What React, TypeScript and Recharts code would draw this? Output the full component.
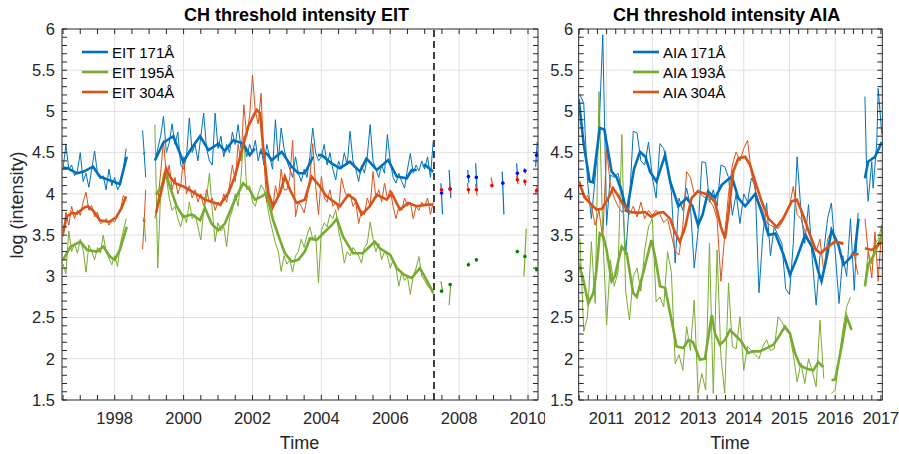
import React from 'react';
import { ComposedChart, Line, XAxis, YAxis, ReferenceLine, ReferenceArea } from 'recharts';

const BLUE = '#0072BD';
const GREEN = '#77AC30';
const ORANGE = '#D95319';
const AX = '#262626';
const GRID = '#e0e0e0';
const FONT = '"Liberation Sans", Arial, Helvetica, sans-serif';

type Pt = { t: number; v: number | null };
const monthly = (start: number, vals: (number | null)[]): Pt[] => vals.map((v, i) => ({ t: start + i / 12, v }));
const pairs = (list: [number, number | null][]): Pt[] => list.map(([t, v]) => ({ t, v }));
const gap = (t: number): Pt => ({ t, v: null });

// ---------- EIT panel (left) ----------
const eitStartA = 1996.5;
const eit171A = [4.30, 4.60, 4.30, 4.35, 4.22, 4.28, 4.50, 4.15, 4.25, 4.08, 4.30, 4.52, 4.25, 4.18, 4.22, 4.05, 4.30, 4.10, 4.20, 4.05, 4.12, 4.30, 4.55];
const eit304A = [3.48, 3.78, 3.62, 3.85, 3.70, 3.80, 3.74, 3.90, 4.02, 3.80, 3.86, 3.72, 3.78, 3.64, 3.66, 3.70, 3.62, 3.68, 3.66, 3.74, 3.80, 3.98, 3.92];
const eit195A = [3.15, 3.03, 3.55, 3.30, 3.40, 3.28, 3.45, 3.32, 3.05, 3.38, 3.30, 3.20, 3.35, 3.28, 3.50, 3.30, 3.22, 3.14, 3.25, 3.12, 3.40, 3.55, 3.70];

const eitGapT = [1998.81, 1998.855, 1998.9];
const eit171Gap = [4.77, 4.50, 4.20];
const eit304Gap = [3.33, 3.66, 4.05];
const eit195Gap = [3.72, 3.70, 3.42];

const eitStartB = 1999 + 2 / 12;
const eit171B = [
  4.40, 4.55, 4.70, 4.94, 4.50, 4.62, 4.85, 4.60, 4.75, 4.35,
  4.30, 4.45, 4.92, 4.50, 4.60, 4.40, 4.70, 4.98, 4.55, 4.40, 4.35, 4.98,
  4.55, 4.70, 4.45, 4.60, 4.50, 4.75, 4.60, 4.84, 4.55, 4.62, 4.45, 4.60,
  4.50, 4.65, 4.40, 4.55, 4.35, 4.60, 4.45, 4.30, 4.90, 4.40, 4.80, 4.55,
  4.40, 4.30, 4.20, 4.45, 4.25, 4.15, 4.30, 4.20, 4.45, 4.80, 4.50, 4.40,
  4.45, 4.60, 4.35, 4.50, 4.30, 4.17, 4.40, 4.30, 4.50, 4.35, 4.76, 4.40,
  4.30, 4.15, 4.35, 4.25, 4.45, 4.84, 4.40, 4.30, 4.20, 4.35, 4.25, 4.72,
  4.40, 4.20, 4.13, 4.25, 4.15, 4.07, 4.30, 4.49, 4.25, 4.35, 4.28, 4.40,
  4.30, 4.45, 4.20, 4.65,
];
const eit304B = [
  3.70, 3.90, 4.25, 4.65, 4.20, 4.35, 4.05, 4.20, 4.00, 4.10,
  4.45, 4.00, 4.10, 3.95, 4.05, 3.90, 4.00, 3.85, 4.05, 3.90, 3.95, 3.80,
  3.90, 3.85, 4.00, 3.90, 4.10, 4.35, 4.15, 4.60, 4.40, 5.08, 4.70, 4.95,
  5.44, 5.00, 4.85, 5.22, 4.40, 3.90, 3.93, 3.80, 4.10, 3.95, 4.30, 4.05,
  4.05, 4.20, 4.65, 3.72, 3.90, 3.85, 3.77, 3.95, 4.20, 4.61, 4.10, 3.75,
  4.21, 3.95, 3.90, 4.05, 3.85, 3.90, 3.80, 4.19, 4.05, 3.95, 4.00, 3.85,
  3.90, 3.64, 3.80, 3.75, 3.95, 3.85, 4.27, 3.95, 4.05, 3.90, 4.13, 3.95,
  4.05, 3.85, 3.70, 3.85, 3.80, 3.95, 3.85, 3.90, 3.70, 3.85, 3.80, 3.90,
  3.85, 3.95, 3.75, 3.90,
];
const eit195B = [
  4.84, 3.10, 4.00, 4.25, 4.20, 3.95, 3.80, 3.85, 3.70, 3.60,
  3.75, 3.65, 3.90, 3.70, 3.75, 3.60, 3.44, 3.80, 3.95, 4.25, 3.80, 3.42,
  3.65, 3.55, 3.60, 3.36, 3.70, 3.80, 4.00, 3.85, 4.20, 4.70, 4.05, 4.10,
  3.90, 3.85, 4.00, 4.11, 4.05, 3.90, 3.70, 3.55, 3.40, 3.30, 3.06, 3.25,
  3.15, 3.20, 3.05, 3.25, 3.30, 3.45, 3.35, 3.50, 3.60, 3.45, 3.50, 2.92,
  3.55, 3.65, 3.60, 3.75, 3.70, 3.81, 3.55, 3.40, 3.16, 3.30, 3.25, 3.35,
  3.30, 3.25, 3.16, 3.35, 3.40, 3.66, 3.45, 3.30, 3.40, 3.20, 3.30, 3.25,
  3.10, 3.20, 3.10, 2.88, 3.05, 2.95, 3.00, 2.78, 3.00, 3.10, 3.24, 3.00,
  2.95, 2.88, 2.85, 2.78,
];

const eit171Smooth: [number, number | null][] = [
  [1996.5, 4.32], [1996.64, 4.31], [1996.9, 4.25], [1997.1, 4.27], [1997.37, 4.33], [1997.57, 4.21], [1997.75, 4.18], [1997.95, 4.15], [1998.15, 4.12], [1998.35, 4.45],
  [1998.6, null], [1998.84, 4.5], [1998.87, 4.49], [1999.0, null],
  [1999.17, 4.41], [1999.41, 4.62], [1999.70, 4.70], [1999.99, 4.39], [2000.24, 4.56], [2000.48, 4.70], [2000.72, 4.53], [2001.01, 4.61], [2001.2, 4.52], [2001.44, 4.65], [2001.73, 4.61], [2001.92, 4.47], [2002.07, 4.55],
  [2002.14, null], [2002.2, 4.50], [2002.41, 4.49], [2002.56, 4.41], [2002.85, 4.51], [2003.14, 4.33], [2003.33, 4.25], [2003.52, 4.25], [2003.76, 4.45],
  [2003.83, null], [2003.9, 4.47], [2004.01, 4.47], [2004.30, 4.37], [2004.54, 4.31], [2004.83, 4.39], [2005.12, 4.27], [2005.31, 4.43], [2005.61, 4.29], [2005.94, 4.41], [2006.19, 4.21], [2006.48, 4.19], [2006.62, 4.29], [2006.77, 4.29],
  [2006.86, null], [2006.95, 4.33], [2007.01, 4.35], [2007.25, 4.27],
];
const eit304Smooth: [number, number | null][] = [
  [1996.5, 3.52], [1996.6, 3.72], [1996.75, 3.77], [1996.9, 3.76], [1997.1, 3.83], [1997.22, 3.85], [1997.37, 3.80], [1997.57, 3.68], [1997.85, 3.66], [1998.05, 3.72], [1998.2, 3.83], [1998.33, 3.97],
  [1998.6, null], [1998.84, 3.66], [1998.87, 3.68], [1999.0, null],
  [1999.2, 3.77], [1999.41, 4.13], [1999.49, 4.31], [1999.6, 4.21], [1999.75, 4.13], [1999.99, 4.09], [2000.24, 4.03], [2000.48, 3.97], [2000.62, 3.93], [2000.91, 3.89], [2001.06, 3.87], [2001.30, 4.01], [2001.49, 4.21], [2001.69, 4.53], [2001.88, 4.82], [2002.12, 5.02], [2002.22, 4.98], [2002.31, 4.57], [2002.46, 4.01], [2002.60, 3.85], [2002.80, 4.01], [2002.94, 4.21], [2003.09, 4.05], [2003.28, 3.89], [2003.52, 3.93], [2003.72, 4.21], [2003.96, 4.09], [2004.15, 3.97], [2004.35, 3.91], [2004.54, 3.85], [2004.78, 3.99], [2004.98, 3.93], [2005.17, 3.75], [2005.41, 3.85], [2005.61, 3.99], [2005.90, 3.93], [2006.04, 4.01], [2006.28, 3.81], [2006.52, 3.89], [2006.77, 3.85], [2007.06, 3.87], [2007.25, 3.87],
];
const eit195Smooth: [number, number | null][] = [
  [1996.5, 3.20], [1996.72, 3.36], [1997.0, 3.42], [1997.2, 3.32], [1997.48, 3.30], [1997.67, 3.36], [1997.86, 3.24], [1998.0, 3.20], [1998.15, 3.32], [1998.35, 3.60],
  [1998.6, null], [1998.84, 3.70], [1998.87, 3.68], [1999.0, null],
  [1999.2, 3.99], [1999.36, 4.09], [1999.49, 4.25], [1999.6, 4.09], [1999.8, 3.85], [1999.99, 3.72], [2000.24, 3.75], [2000.48, 3.68], [2000.62, 3.83], [2000.81, 3.64], [2001.0, 3.56], [2001.2, 3.64], [2001.49, 3.93], [2001.73, 4.13], [2001.92, 4.05], [2002.07, 3.93], [2002.27, 3.97], [2002.41, 4.01], [2002.60, 3.68], [2002.80, 3.44], [2002.94, 3.28], [2003.14, 3.18], [2003.33, 3.20], [2003.52, 3.30], [2003.67, 3.46], [2003.86, 3.44], [2004.05, 3.52], [2004.3, 3.62], [2004.45, 3.70], [2004.63, 3.48], [2004.92, 3.28], [2005.2, 3.28], [2005.55, 3.42], [2005.7, 3.34], [2006.0, 3.26], [2006.19, 3.10], [2006.4, 3.02], [2006.62, 2.98], [2006.86, 3.10], [2007.05, 2.96], [2007.25, 2.80],
];

// sparse EIT data after the dashed line
const eit171Late: [number, number | null][] = [
  [2007.47, 4.13], [2007.52, 3.75], [2007.6, null], [2007.71, 4.29], [2007.76, 3.95], [2008.0, null],
  [2008.25, 4.29], [2008.28, 4.13], [2008.4, null], [2008.48, 4.37], [2008.52, 4.03], [2008.9, null],
  [2009.25, 4.27], [2009.30, 3.75], [2009.5, null], [2009.67, 4.37], [2009.70, 4.17], [2009.8, null],
  [2009.89, 4.31], [2009.93, 4.25], [2010.1, null], [2010.22, 4.33], [2010.27, 4.63],
];
const eit304Late: [number, number | null][] = [
  [2007.72, 4.13], [2007.76, 4.0], [2008.0, null], [2008.24, 4.13], [2008.28, 4.0], [2008.4, null],
  [2008.48, 4.12], [2008.52, 3.98], [2008.8, null], [2008.93, 4.2], [2008.97, 4.1], [2009.5, null],
  [2009.67, 4.22], [2009.71, 4.12], [2009.8, null], [2009.89, 4.18], [2009.93, 4.1], [2010.1, null],
  [2010.22, 4.0], [2010.27, 4.1],
];
const eit195Late: [number, number | null][] = [
  [2007.47, 2.94], [2007.52, 2.82], [2007.6, null], [2007.71, 2.65], [2007.76, 2.92], [2008.0, null],
  [2008.25, 3.12], [2008.29, 3.17], [2008.4, null], [2008.49, 3.22], [2008.52, 3.18], [2009.5, null],
  [2009.67, 3.28], [2009.70, 3.32], [2009.8, null], [2009.88, 3.0], [2009.95, 3.58], [2010.1, null],
  [2010.22, 3.12], [2010.28, 3.06],
];
const eit171Dots: [number, number][] = [[2007.49, 4.01], [2007.74, 4.06], [2008.27, 4.21], [2008.50, 4.20], [2009.27, 4.13], [2009.69, 4.25], [2009.91, 4.28], [2010.25, 4.47]];
const eit304Dots: [number, number][] = [[2007.49, 4.05], [2007.74, 4.06], [2008.27, 4.05], [2008.50, 4.05], [2008.95, 4.10], [2009.69, 4.17], [2009.91, 4.15], [2010.25, 4.04]];
const eit195Dots: [number, number][] = [[2007.49, 2.82], [2007.74, 2.90], [2008.27, 3.14], [2008.50, 3.20], [2009.69, 3.30], [2009.91, 3.24], [2010.25, 3.08]];

// ---------- AIA panel (right) ----------
const aiaStart = 2010 + 5 / 12;
const aia171 = [
  5.20, 5.10, 4.15, 3.70, 4.20, 4.75, 5.93,
  3.62, 4.23, 4.20, 4.25, 4.05, 3.26, 3.90, 4.76, 4.74, 4.40, 4.35, 4.63,
  4.20, 3.95, 4.61, 4.55, 4.30, 4.03, 3.16, 3.95, 3.80, 4.07, 3.85, 3.10,
  3.55, 4.39, 4.38, 3.90, 4.05, 3.85, 4.35, 4.33, 4.20, 3.74, 4.00, 3.64,
  4.00, 3.90, 4.19, 4.10, 2.80, 3.50, 3.89, 3.25, 3.60, 3.50, 3.40, 2.85,
  2.78, 3.40, 4.45, 3.80, 3.40, 3.87, 3.20, 2.65, 3.25, 3.30, 3.70, 3.89,
  3.30, 2.67, 3.25, 3.00, 3.70, 2.83, 3.77,
];
const aia304 = [
  4.15, 3.95, 3.98, 3.85, 3.62, 3.80, 3.46,
  4.55, 4.10, 3.95, 3.85, 3.78, 3.80, 3.75, 3.85, 3.72, 3.90, 3.70, 3.80,
  3.74, 3.80, 3.75, 3.65, 3.70, 3.50, 3.30, 3.26, 3.60, 4.27, 4.20, 4.00,
  4.05, 3.98, 3.95, 3.92, 3.85, 3.70, 2.94, 3.50, 4.00, 4.35, 4.51, 4.40,
  4.55, 4.65, 4.25, 4.05, 3.90, 3.80, 3.65, 3.62, 3.60, 3.58, 3.65, 3.75,
  3.85, 4.09, 3.75, 3.70, 3.55, 3.45, 3.35, 3.30, 3.45, 3.06, 3.45, 3.54,
  3.45, 3.40, 3.38, null, 3.28, 3.25, 3.02,
];
const aia193 = [
  3.46, 2.33, 2.51, 3.42, 2.67, 5.24, 3.52,
  2.41, 3.20, 2.88, 3.05, 4.72, 2.82, 2.47, 3.00, 3.10, 2.82, 3.32, 3.60,
  3.70, 2.69, 2.75, 2.63, 3.30, 3.05, 1.94, 2.05, 1.86, 2.39, 2.10, 2.71,
  1.58, 1.82, 1.62, 3.40, 1.58, 3.32, 2.03, 1.58, 2.92, 2.15, 2.12, 2.51,
  1.86, 2.15, 2.10, 2.05, 2.00, 2.15, 2.23, 2.10, 2.12, 2.51, 2.45, 2.35,
  2.30, 2.05, 1.72, 1.95, 1.70, 2.00, 1.85, 1.66, 2.47, 1.76, null, 1.58,
  1.62, 2.00, 2.35, 2.63, 2.75, null, null,
];
const aia171Late: [number, number][] = [[2016.65, 5.18], [2016.69, 4.19], [2016.72, 3.91], [2016.80, 4.39], [2016.83, 4.07], [2016.91, 4.63], [2016.94, 5.28], [2016.98, 5.0], [2017.02, 4.72]];
const aia304Late: [number, number][] = [[2016.65, 3.70], [2016.72, 3.30], [2016.80, 2.98], [2016.87, 3.54], [2016.94, 2.94], [2017.02, 3.62]];
const aia193Late: [number, number][] = [[2016.65, 2.88], [2016.72, 3.30], [2016.80, 3.15], [2016.87, 3.40], [2016.94, 3.45], [2017.03, 3.64]];

const aia171Smooth: [number, number | null][] = [
  [2010.39, 5.15], [2010.5, 4.6], [2010.63, 4.15], [2010.7, 4.14], [2010.85, 4.80], [2010.95, 4.78], [2011.11, 4.27], [2011.22, 4.2], [2011.33, 4.03], [2011.44, 3.78], [2011.6, 4.3], [2011.73, 4.51], [2011.85, 4.45], [2011.95, 4.27], [2012.09, 4.15], [2012.28, 4.47], [2012.39, 4.15], [2012.57, 3.85], [2012.75, 3.95], [2012.88, 3.85], [2013.0, 3.62], [2013.1, 3.75], [2013.22, 4.03], [2013.37, 3.95], [2013.52, 4.11], [2013.65, 4.17], [2013.74, 4.21], [2013.88, 3.95], [2014.03, 3.85], [2014.25, 4.0], [2014.39, 3.78], [2014.54, 3.50], [2014.69, 3.52], [2014.87, 3.26], [2015.01, 3.02], [2015.16, 3.22], [2015.34, 3.50], [2015.49, 3.36], [2015.63, 3.06], [2015.70, 2.94], [2015.81, 3.22], [2015.92, 3.56], [2016.07, 3.38], [2016.18, 3.14], [2016.32, 3.22], [2016.43, 3.30], [2016.51, 3.70],
  [2016.58, null], [2016.65, 4.19], [2016.72, 4.39], [2016.87, 4.45], [2017.02, 4.63],
];
const aia304Smooth: [number, number | null][] = [
  [2010.39, 4.15], [2010.53, 3.95], [2010.67, 3.87], [2010.78, 3.81], [2010.9, 3.82], [2011.04, 3.95], [2011.14, 4.07], [2011.25, 3.98], [2011.36, 3.87], [2011.51, 3.78], [2011.69, 3.77], [2011.84, 3.78], [2011.98, 3.72], [2012.13, 3.77], [2012.24, 3.78], [2012.39, 3.70], [2012.49, 3.54], [2012.60, 3.42], [2012.71, 3.58], [2012.86, 3.95], [2013.0, 4.03], [2013.22, 3.99], [2013.37, 3.90], [2013.5, 3.60], [2013.59, 3.46], [2013.66, 3.74], [2013.77, 4.27], [2013.88, 4.43], [2014.03, 4.45], [2014.14, 4.35], [2014.25, 4.15], [2014.39, 3.91], [2014.54, 3.70], [2014.72, 3.60], [2014.86, 3.70], [2015.05, 3.91], [2015.16, 3.93], [2015.30, 3.74], [2015.45, 3.50], [2015.56, 3.34], [2015.67, 3.28], [2015.81, 3.34], [2015.99, 3.42], [2016.18, 3.40],
  [2016.27, null], [2016.36, 3.26], [2016.51, 3.27], [2016.58, null], [2016.65, 3.34], [2016.80, 3.32], [2016.94, 3.38], [2017.02, 3.42],
];
const aia193Smooth: [number, number | null][] = [
  [2010.39, 3.16], [2010.49, 2.96], [2010.60, 2.67], [2010.71, 2.80], [2010.78, 3.08], [2010.85, 3.52], [2010.93, 3.48], [2011.0, 3.32], [2011.11, 2.94], [2011.18, 3.0], [2011.33, 3.36], [2011.44, 3.28], [2011.58, 2.80], [2011.66, 2.75], [2011.80, 3.04], [2011.98, 3.44], [2012.06, 3.24], [2012.17, 2.88], [2012.28, 2.86], [2012.42, 2.47], [2012.53, 2.15], [2012.68, 2.13], [2012.79, 2.23], [2012.89, 2.20], [2013.04, 1.99], [2013.15, 2.0], [2013.30, 2.53], [2013.37, 2.31], [2013.48, 2.17], [2013.59, 2.23], [2013.70, 2.35], [2013.84, 2.27], [2013.95, 2.21], [2014.10, 2.07], [2014.21, 2.09], [2014.35, 2.09], [2014.50, 2.13], [2014.65, 2.17], [2014.79, 2.29], [2014.90, 2.39], [2015.01, 2.31], [2015.12, 2.07], [2015.23, 1.92], [2015.38, 1.88], [2015.52, 1.86], [2015.63, 1.96], [2015.74, 1.90],
  [2015.83, null], [2015.92, 1.74], [2016.0, 1.75], [2016.14, 2.15], [2016.25, 2.51], [2016.36, 2.35],
  [2016.5, null], [2016.65, 2.88], [2016.72, 3.14], [2016.83, 3.24], [2016.98, 3.44], [2017.03, 3.52],
];

// ---------- tick positions ----------
const yTicks = Array.from({ length: 46 }, (_, i) => (15 + i) / 10);
const eitXTicks = Array.from({ length: 28 }, (_, i) => 1996.5 + i * 0.5);
const aiaXTicks = Array.from({ length: 34 }, (_, i) => Math.round((2010.4 + i * 0.2) * 10) / 10);
const eitGridX = [1998, 2000, 2002, 2004, 2006, 2008, 2010];
const aiaGridX = [2011, 2012, 2013, 2014, 2015, 2016, 2017];
const gridY = [2, 2.5, 3, 3.5, 4, 4.5, 5, 5.5];

const TOP = 29;
const BOTTOM = 400;
const TICK = 5;

const isInt = (v: number) => Math.abs(v - Math.round(v)) < 1e-6;

const xTick = (major: (v: number) => boolean) => (p: any) => {
  const x = p.x;
  const v = p.payload.value;
  return (
    <g>
      <line x1={x} x2={x} y1={BOTTOM} y2={BOTTOM - TICK} stroke={AX} strokeWidth={1} />
      <line x1={x} x2={x} y1={TOP} y2={TOP + TICK} stroke={AX} strokeWidth={1} />
      {major(v) && (
        <text x={x} y={BOTTOM + 24} textAnchor="middle" fill={AX} fontSize={16.5} fontFamily={FONT}>
          {Math.round(v)}
        </text>
      )}
    </g>
  );
};

const yTick = (plotL: number, plotR: number, gapPx: number) => (p: any) => {
  const y = p.y;
  const v = p.payload.value;
  const major = Math.abs(v * 2 - Math.round(v * 2)) < 1e-6;
  return (
    <g>
      <line x1={plotL} x2={plotL + TICK} y1={y} y2={y} stroke={AX} strokeWidth={1} />
      <line x1={plotR - TICK} x2={plotR} y1={y} y2={y} stroke={AX} strokeWidth={1} />
      {major && (
        <text x={plotL - gapPx} y={y} dy="0.35em" textAnchor="end" fill={AX} fontSize={16.5} fontFamily={FONT}>
          {String(v)}
        </text>
      )}
    </g>
  );
};

const lineProps = { type: 'linear' as const, dot: false, activeDot: false, isAnimationActive: false, connectNulls: false, dataKey: 'v' };

const eitDomain: [number, number] = [1996.47, 2010.29];
const aiaDomain: [number, number] = [2010.39, 2017.03];

function EitChart() {
  const raw171 = [...monthly(eitStartA, eit171A), gap(1998.6), ...pairs(eitGapT.map((t, i) => [t, eit171Gap[i]])), gap(1999.0), ...monthly(eitStartB, eit171B)];
  const raw304 = [...monthly(eitStartA, eit304A), gap(1998.6), ...pairs(eitGapT.map((t, i) => [t, eit304Gap[i]])), gap(1999.0), ...monthly(eitStartB, eit304B)];
  const raw195 = [...monthly(eitStartA, eit195A), gap(1998.6), ...pairs(eitGapT.map((t, i) => [t, eit195Gap[i]])), gap(1999.0), ...monthly(eitStartB, eit195B)];
  return (
    <ComposedChart width={545} height={454} margin={{ top: TOP, right: 7, bottom: 24, left: 22 }}>
      <XAxis dataKey="t" type="number" domain={eitDomain} allowDataOverflow ticks={eitXTicks} interval={0}
        tickLine={false} axisLine={false} height={30} tick={xTick((v) => isInt(v) && Math.round(v) % 2 === 0)} />
      <YAxis dataKey="v" type="number" domain={[1.5, 6]} allowDataOverflow ticks={yTicks} interval={0}
        tickLine={false} axisLine={false} width={40} tick={yTick(62, 538, 7)} />
      {eitGridX.map((x) => <ReferenceLine key={'gx' + x} x={x} stroke={GRID} strokeWidth={1} />)}
      {gridY.map((y) => <ReferenceLine key={'gy' + y} y={y} stroke={GRID} strokeWidth={1} />)}
      <ReferenceArea x1={eitDomain[0]} x2={eitDomain[1]} y1={1.5} y2={6} fill="none" fillOpacity={0} stroke={AX} strokeWidth={1} />
      <ReferenceLine x={2007.27} stroke="#000" strokeWidth={1.5} strokeDasharray="7 4" />

      <Line {...lineProps} data={raw171} stroke={BLUE} strokeWidth={1} />
      <Line {...lineProps} data={raw195} stroke={GREEN} strokeWidth={1} />
      <Line {...lineProps} data={raw304} stroke={ORANGE} strokeWidth={1} />
      <Line {...lineProps} data={pairs(eit171Smooth)} stroke={BLUE} strokeWidth={2.6} />
      <Line {...lineProps} data={pairs(eit195Smooth)} stroke={GREEN} strokeWidth={2.6} />
      <Line {...lineProps} data={pairs(eit304Smooth)} stroke={ORANGE} strokeWidth={2.6} />

      <Line {...lineProps} data={pairs(eit171Late)} stroke={BLUE} strokeWidth={1.2} />
      <Line {...lineProps} data={pairs(eit304Late)} stroke={ORANGE} strokeWidth={1.2} />
      <Line {...lineProps} data={pairs(eit195Late)} stroke={GREEN} strokeWidth={1.2} />
      <Line {...lineProps} data={pairs(eit171Dots)} stroke="none" dot={{ r: 1.8, fill: '#0000ff', stroke: 'none' }} />
      <Line {...lineProps} data={pairs(eit304Dots)} stroke="none" dot={{ r: 1.8, fill: '#ff0000', stroke: 'none' }} />
      <Line {...lineProps} data={pairs(eit195Dots)} stroke="none" dot={{ r: 1.8, fill: '#008000', stroke: 'none' }} />
    </ComposedChart>
  );
}

function AiaChart() {
  const raw171 = [...monthly(aiaStart, aia171), gap(2016.58), ...pairs(aia171Late)];
  const raw304 = [...monthly(aiaStart, aia304), gap(2016.58), ...pairs(aia304Late)];
  const raw193 = [...monthly(aiaStart, aia193), ...pairs(aia193Late)];
  return (
    <ComposedChart width={354} height={454} margin={{ top: TOP, right: 16.7, bottom: 24, left: 0 }}>
      <XAxis dataKey="t" type="number" domain={aiaDomain} allowDataOverflow ticks={aiaXTicks} interval={0}
        tickLine={false} axisLine={false} height={30} tick={xTick(isInt)} />
      <YAxis dataKey="v" type="number" domain={[1.5, 6]} allowDataOverflow ticks={yTicks} interval={0}
        tickLine={false} axisLine={false} width={33.7} tick={yTick(33.7, 337.3, 5.5)} />
      {aiaGridX.map((x) => <ReferenceLine key={'gx' + x} x={x} stroke={GRID} strokeWidth={1} />)}
      {gridY.map((y) => <ReferenceLine key={'gy' + y} y={y} stroke={GRID} strokeWidth={1} />)}
      <ReferenceArea x1={aiaDomain[0]} x2={aiaDomain[1]} y1={1.5} y2={6} fill="none" fillOpacity={0} stroke={AX} strokeWidth={1} />

      <Line {...lineProps} data={raw171} stroke={BLUE} strokeWidth={1} />
      <Line {...lineProps} data={raw193} stroke={GREEN} strokeWidth={1} />
      <Line {...lineProps} data={raw304} stroke={ORANGE} strokeWidth={1} />
      <Line {...lineProps} data={pairs(aia171Smooth)} stroke={BLUE} strokeWidth={2.6} />
      <Line {...lineProps} data={pairs(aia193Smooth)} stroke={GREEN} strokeWidth={2.6} />
      <Line {...lineProps} data={pairs(aia304Smooth)} stroke={ORANGE} strokeWidth={2.6} />
    </ComposedChart>
  );
}

const eitLegend = [
  { label: 'EIT 171Å', color: BLUE },
  { label: 'EIT 195Å', color: GREEN },
  { label: 'EIT 304Å', color: ORANGE },
];
const aiaLegend = [
  { label: 'AIA 171Å', color: BLUE },
  { label: 'AIA 193Å', color: GREEN },
  { label: 'AIA 304Å', color: ORANGE },
];

function LegendBlock({ x, items }: { x: number; items: { label: string; color: string }[] }) {
  return (
    <g>
      {items.map((it, i) => {
        const y = 52 + i * 20;
        return (
          <g key={it.label}>
            <line x1={x} x2={x + 26} y1={y} y2={y} stroke={it.color} strokeWidth={2.6} />
            <text x={x + 30} y={y + 5.5} fontSize={15} fill="#000" fontFamily={FONT}>{it.label}</text>
          </g>
        );
      })}
    </g>
  );
}

export default function App() {
  return (
    <div style={{ position: 'absolute', left: 0, top: 0, width: 899, height: 454, background: '#fff', fontFamily: FONT }}>
      <div style={{ position: 'absolute', left: 0, top: 0 }}>
        <EitChart />
      </div>
      <div style={{ position: 'absolute', left: 545, top: 0 }}>
        <AiaChart />
      </div>
      <svg width={899} height={454} style={{ position: 'absolute', left: 0, top: 0, pointerEvents: 'none' }}>
        <text x={296.5} y={21} textAnchor="middle" fontSize={18} fontWeight="bold" fill="#000" fontFamily={FONT}>CH threshold intensity EIT</text>
        <text x={726.7} y={21} textAnchor="middle" fontSize={18} fontWeight="bold" fill="#000" fontFamily={FONT}>CH threshold intensity AIA</text>
        <text x={299.5} y={449} textAnchor="middle" fontSize={18} fill={AX} fontFamily={FONT}>Time</text>
        <text x={730} y={449} textAnchor="middle" fontSize={18} fill={AX} fontFamily={FONT}>Time</text>
        <text transform="translate(23,205) rotate(-90)" textAnchor="middle" fontSize={18} fill={AX} fontFamily={FONT}>log (intensity)</text>
        <LegendBlock x={82} items={eitLegend} />
        <LegendBlock x={633} items={aiaLegend} />
      </svg>
    </div>
  );
}
